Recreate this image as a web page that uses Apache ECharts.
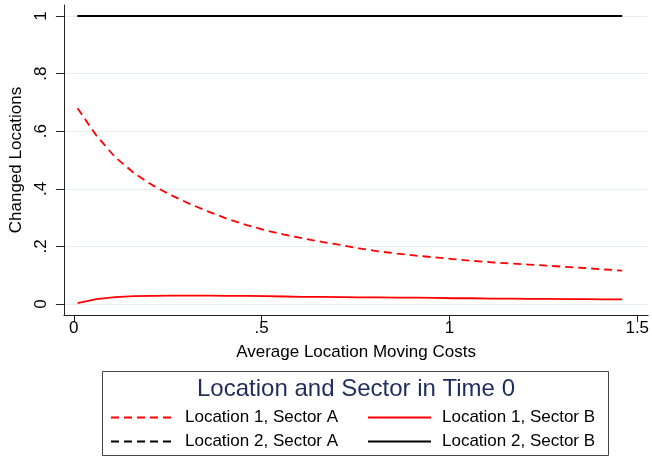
<!DOCTYPE html>
<html>
<head>
<meta charset="utf-8">
<script src="https://cdn.jsdelivr.net/npm/echarts@6/dist/echarts.min.js"></script>
<style>
  html, body { margin: 0; padding: 0; background: #ffffff; }
  #chart { width: 652px; height: 457px; }
</style>
</head>
<body>
<div id="chart"></div>
<script>
// Average location moving cost grid
var movingCosts = [0.01, 0.06, 0.11, 0.16, 0.21, 0.26, 0.31, 0.36, 0.41, 0.46,
                   0.51, 0.56, 0.61, 0.66, 0.71, 0.76, 0.81, 0.86, 0.91, 0.96,
                   1.01, 1.06, 1.11, 1.16, 1.21, 1.26, 1.31, 1.36, 1.41, 1.46];

// Share of agents that changed location, by starting location and sector
var loc1SectorA = [0.680, 0.585, 0.510, 0.455, 0.412, 0.377, 0.347, 0.320, 0.295, 0.274,
                   0.256, 0.241, 0.228, 0.216, 0.205, 0.193, 0.183, 0.175, 0.168, 0.162,
                   0.156, 0.150, 0.145, 0.141, 0.137, 0.133, 0.129, 0.125, 0.120, 0.116];
var loc1SectorB = [0.003, 0.017, 0.024, 0.027, 0.028, 0.029, 0.029, 0.029, 0.028, 0.028,
                   0.027, 0.026, 0.025, 0.025, 0.024, 0.023, 0.023, 0.022, 0.022, 0.021,
                   0.020, 0.020, 0.019, 0.019, 0.018, 0.018, 0.017, 0.017, 0.016, 0.016];
var loc2SectorA = [1, 1, 1, 1, 1, 1, 1, 1, 1, 1, 1, 1, 1, 1, 1,
                   1, 1, 1, 1, 1, 1, 1, 1, 1, 1, 1, 1, 1, 1, 1];
var loc2SectorB = [1, 1, 1, 1, 1, 1, 1, 1, 1, 1, 1, 1, 1, 1, 1,
                   1, 1, 1, 1, 1, 1, 1, 1, 1, 1, 1, 1, 1, 1, 1];

// Axis ticks and their printed labels
var xTicks = [0, 0.5, 1, 1.5];
var xTickLabels = ['0', '.5', '1', '1.5'];
var yTicks = [0, 0.2, 0.4, 0.6, 0.8, 1];
var yTickLabels = ['0', '.2', '.4', '.6', '.8', '1'];

var seriesNames = ['Location 1, Sector A', 'Location 1, Sector B',
                   'Location 2, Sector A', 'Location 2, Sector B'];
var legendTitle = 'Location and Sector in Time 0';

var FONT = '"Liberation Sans", Arial, sans-serif';

function pairs(ys) {
  return movingCosts.map(function (x, i) { return [x, ys[i]]; });
}
function labelFor(ticks, labels) {
  return function (v) {
    for (var i = 0; i < ticks.length; i++) {
      if (Math.abs(ticks[i] - v) < 1e-9) return labels[i];
    }
    return '';
  };
}
function lineSeries(name, ys, color, dashed) {
  return {
    type: 'line',
    name: name,
    data: pairs(ys),
    symbol: 'none',
    showSymbol: false,
    smooth: false,
    silent: true,
    lineStyle: { color: color, width: 1.8, type: dashed ? [8, 5] : 'solid' },
    itemStyle: { color: color }
  };
}
function legendColumn(left, names) {
  return {
    orient: 'vertical',
    left: left,
    top: 409,
    padding: 0,
    itemWidth: 63,
    itemHeight: 14,
    itemGap: 7,
    selectedMode: false,
    data: names,
    itemStyle: { opacity: 0 },
    textStyle: { fontSize: 17, color: '#000', fontFamily: FONT, padding: [0, 0, 0, 6] }
  };
}

var chart = echarts.init(document.getElementById('chart'), null, { renderer: 'canvas' });

chart.setOption({
  animation: false,
  backgroundColor: '#ffffff',
  textStyle: { fontFamily: FONT },
  grid: { left: 60, top: 5, width: 592, height: 310, containLabel: false },
  xAxis: {
    type: 'value',
    min: -0.0263,
    max: 1.529,
    name: 'Average Location Moving Costs',
    nameLocation: 'middle',
    nameGap: 29,
    nameTextStyle: { fontSize: 17, color: '#000', fontFamily: FONT },
    axisLine: { show: true, onZero: false, lineStyle: { color: '#222', width: 1 } },
    axisTick: { show: true, length: 7, inside: false, customValues: xTicks,
                lineStyle: { color: '#222', width: 1 } },
    axisLabel: { show: true, customValues: xTicks, margin: 5, fontSize: 17, color: '#000',
                 fontFamily: FONT, formatter: labelFor(xTicks, xTickLabels) },
    splitLine: { show: false }
  },
  yAxis: {
    type: 'value',
    min: -0.0382,
    max: 1.0382,
    name: 'Changed Locations',
    nameLocation: 'middle',
    nameGap: 30,
    nameTextStyle: { fontSize: 17, color: '#000', fontFamily: FONT },
    axisLine: { show: true, onZero: false, lineStyle: { color: '#222', width: 1 } },
    axisTick: { show: true, length: 8, inside: false, customValues: yTicks,
                lineStyle: { color: '#222', width: 1 } },
    axisLabel: { show: true, customValues: yTicks, rotate: 90, margin: 14, fontSize: 17,
                 color: '#000', fontFamily: FONT, formatter: labelFor(yTicks, yTickLabels) },
    splitLine: { show: true, lineStyle: { color: '#e6eef0', width: 1 } }
  },
  legend: [
    legendColumn(110, [seriesNames[0], seriesNames[2]]),
    legendColumn(367, [seriesNames[1], seriesNames[3]])
  ],
  graphic: [
    {
      type: 'rect',
      silent: true,
      shape: { x: 102.5, y: 371.5, width: 506, height: 84 },
      style: { fill: 'none', stroke: '#444', lineWidth: 1 }
    },
    {
      type: 'text',
      silent: true,
      x: 356,
      y: 389,
      style: {
        text: legendTitle,
        align: 'center',
        verticalAlign: 'middle',
        fontSize: 24,
        fontFamily: FONT,
        fill: '#1f2d5c'
      }
    }
  ],
  series: [
    lineSeries(seriesNames[0], loc1SectorA, '#ff0000', true),
    lineSeries(seriesNames[1], loc1SectorB, '#ff0000', false),
    lineSeries(seriesNames[2], loc2SectorA, '#000000', true),
    lineSeries(seriesNames[3], loc2SectorB, '#000000', false)
  ]
});
</script>
</body>
</html>
